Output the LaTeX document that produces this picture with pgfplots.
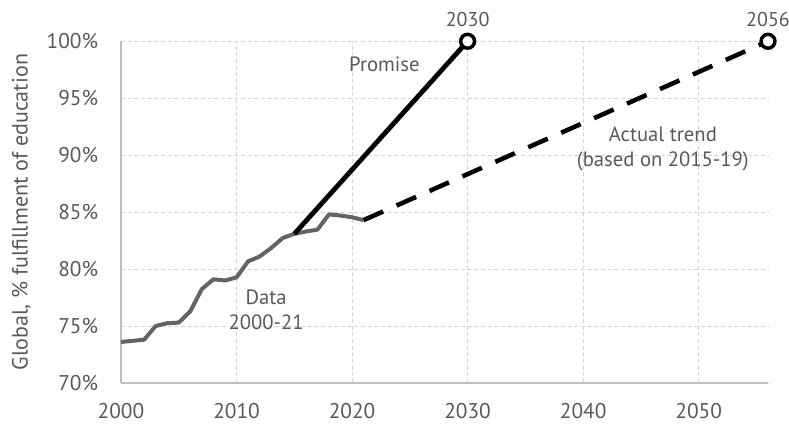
\documentclass[border=0pt]{standalone}
\usepackage{pgfplots}
\pgfplotsset{compat=1.18}
\usepackage{fontspec}
\setmainfont{PT Sans}
\definecolor{txt}{RGB}{89,89,89}
\definecolor{dataline}{RGB}{100,100,100}
\definecolor{gridc}{RGB}{212,212,212}
\definecolor{axc}{RGB}{191,191,191}
\begin{document}
\begin{tikzpicture}
\useasboundingbox (-90.75pt,-31pt) rectangle (501pt,287.25pt);
\begin{axis}[
  at={(0,0)}, anchor=south west,
  scale only axis,
  width=485.25pt, height=256.3pt,
  xmin=2000, xmax=2056, ymin=70, ymax=100,
  xtick={2000,2010,2020,2030,2040,2050},
  ytick={70,75,80,85,90,95,100},
  yticklabel={\pgfmathprintnumber{\tick}\%},
  /pgf/number format/1000 sep={},
  /pgf/number format/assume math mode=true,
  tick style={draw=none},
  axis lines*=left,
  axis line style={draw=axc, line width=1.5pt, -},
  grid=major,
  major grid style={draw=gridc, densely dashed, line width=0.5pt},
  tick label style={font=\fontsize{16}{18}\selectfont, text=txt, inner sep=0pt},
  yticklabel style={anchor=east, xshift=-17pt},
  xticklabel style={anchor=north, yshift=-15pt},
  ylabel={Global, \% fulfillment of education},
  ylabel style={font=\fontsize{16.5}{18}\selectfont, text=txt, at={(axis description cs:-0.1538,0.5)}, anchor=center},
  clip=false,
]
\addplot[dataline, line width=3pt, line join=round] coordinates {
(2000,73.6) (2001,73.7) (2002,73.8) (2003,75.0) (2004,75.25) (2005,75.3)
(2006,76.3) (2007,78.25) (2008,79.1) (2009,79.0) (2010,79.27) (2011,80.68)
(2012,81.1) (2013,81.85) (2014,82.73) (2015,83.09) (2016,83.3) (2017,83.46)
(2018,84.8) (2019,84.7) (2020,84.55) (2021,84.3)
};
\addplot[black, line width=3.6pt] coordinates {(2015,83.09) (2030,100)};
\addplot[black, line width=3.4pt, dash pattern=on 16pt off 11pt] coordinates {(2021,84.3) (2056,100)};
\addplot[only marks, mark=*, mark size=5.2pt, mark options={fill=white, draw=black, line width=2.6pt}] coordinates {(2030,100) (2056,100)};
\node[font=\fontsize{15}{17}\selectfont, text=txt] at (axis cs:2030,101.9) {2030};
\node[font=\fontsize{15}{17}\selectfont, text=txt] at (axis cs:2056,101.9) {2056};
\node[font=\fontsize{15.5}{17}\selectfont, text=txt] at (axis cs:2022.8,97.98) {Promise};
\node[font=\fontsize{15.5}{18.75}\selectfont, text=txt, align=center] at (axis cs:2046.9,90.55) {Actual trend\\(based on 2015-19)};
\node[font=\fontsize{15.5}{18.75}\selectfont, text=txt, align=center] at (axis cs:2012.56,76.4) {Data\\2000-21};
\end{axis}
\end{tikzpicture}
\end{document}
